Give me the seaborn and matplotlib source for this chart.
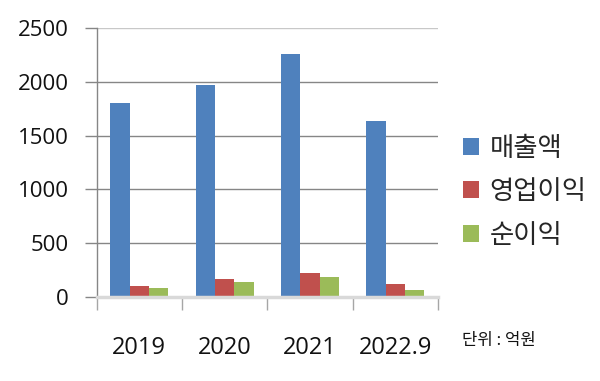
import matplotlib
matplotlib.use("Agg")
import matplotlib.pyplot as plt
import seaborn as sns
import pandas as pd
from matplotlib.patches import Patch

categories = ["2019", "2020", "2021", "2022.9"]
series_names = ["매출액", "영업이익", "순이익"]
revenue = [1800, 1970, 2265, 1640]
operating_profit = [100, 165, 220, 118]
net_profit = [80, 137, 183, 62]
colors = ["#4F81BD", "#C0504D", "#9BBB59"]
y_ticks = [0, 500, 1000, 1500, 2000, 2500]

sns.set_theme(style="white")
plt.rcParams["font.family"] = ["Noto Sans CJK KR", "DejaVu Sans"]
digit_font = ["Open Sans", "DejaVu Sans"]

rows = []
for name, vals in zip(series_names, [revenue, operating_profit, net_profit]):
    for c, v in zip(categories, vals):
        rows.append({"category": c, "series": name, "value": v})
df = pd.DataFrame(rows)

fig = plt.figure(figsize=(6, 3.81), dpi=100)
ax = fig.add_axes([0.161, 0.2213, 0.569, 0.7044])

sns.barplot(data=df, x="category", y="value", hue="series", order=categories,
            hue_order=series_names, palette=colors, width=0.68, gap=0,
            saturation=1, linewidth=0, ax=ax, legend=False)

ax.set_xlim(-0.5, len(categories) - 0.5)
ax.set_ylim(0, 2500)
ax.set_yticks(y_ticks)
ax.set_yticklabels([str(t) for t in y_ticks], fontsize=16, color="#111111", family=digit_font)
ax.tick_params(axis="y", direction="out", length=9, width=1, color="#868686", pad=11, left=True)

# grid lines
for t in y_ticks[1:-1]:
    ax.axhline(t, color="#868686", lw=1, zorder=0)
ax.axhline(2500, color="#c8c8c8", lw=1, zorder=0)

# x axis: boundary ticks as major, labels as minor
ax.set_xticks([i - 0.5 for i in range(len(categories) + 1)])
ax.set_xticklabels([])
ax.set_xticks(range(len(categories)), minor=True)
ax.set_xticklabels(categories, minor=True, fontsize=17, color="#111111", family=digit_font)
ax.tick_params(axis="x", which="major", direction="out", length=9, width=1, color="#a6a6a6", bottom=True)
ax.tick_params(axis="x", which="minor", length=0, pad=28, bottom=True)

for s in ["top", "right"]:
    ax.spines[s].set_visible(False)
ax.spines["left"].set_color("#868686")
ax.spines["left"].set_linewidth(1)
ax.spines["bottom"].set_color("#d9d9d9")
ax.spines["bottom"].set_linewidth(2.5)
ax.set_xlabel("")
ax.set_ylabel("")

handles = [Patch(facecolor=c, edgecolor="none", label=n) for c, n in zip(colors, series_names)]
fig.legend(handles=handles, loc="center left", bbox_to_anchor=(0.772, 0.497),
           frameon=False, fontsize=19, handlelength=0.6, handleheight=0.6,
           handletextpad=0.4, labelspacing=0.62, borderaxespad=0, borderpad=0)

fig.text(462 / 600, 1 - 341 / 381, "단위 : 억원", fontsize=12, va="center", ha="left", color="#111111")

fig.savefig("out.png", dpi=100)
